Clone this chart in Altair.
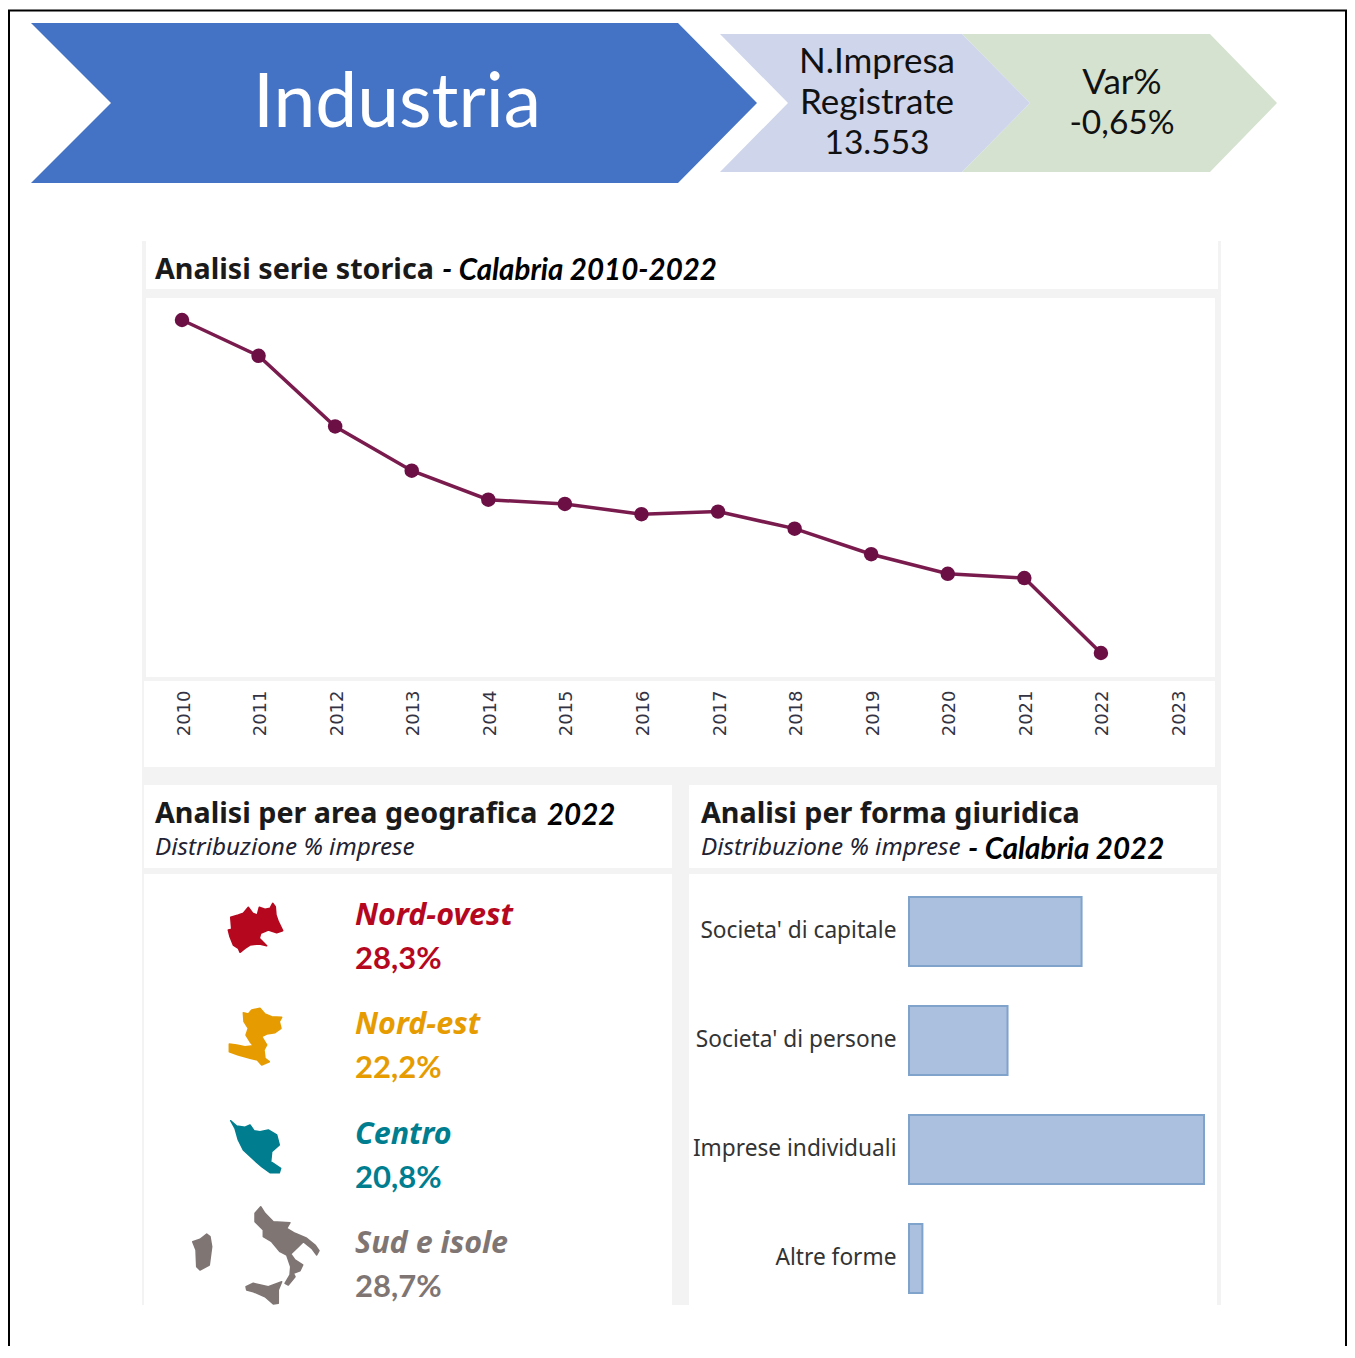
import altair as alt
import pandas as pd

# ---- data ----
years = [str(y) for y in range(2010, 2024)]
series_years = [str(y) for y in range(2010, 2023)]
imprese = [13944, 13902, 13819, 13767, 13733, 13728, 13716, 13719, 13699, 13669, 13646, 13641, 13553]
regions = ["Nord-ovest", "Nord-est", "Centro", "Sud e isole"]
region_shares = [28.3, 22.2, 20.8, 28.7]
region_colors = ["#B5081F", "#E69C00", "#007E8F", "#7F7674"]
forms = ["Societa' di capitale", "Societa' di persone", "Imprese individuali", "Altre forme"]
form_shares = [29.6, 16.9, 50.6, 2.3]

OX, OY = 8, 8  # page margin: picture px -> chart px
W, H = 1339, 1338
RIGHT = OX + W - 1


def path(pts, sx=1.0, sy=1.0, x0=0.0, y0=0.0):
    p = [(x0 + x / sx - OX, y0 + y / sy - OY) for x, y in pts]
    return "M" + "L".join(f"{x:.1f},{y:.1f}" for x, y in p) + "Z"


def zoomed(pts, x0, y0):
    return path(pts, 3, 3, x0, y0)


# ---- panels: x, x2, y, y2, colour (picture px) ----
panels = [
    (142, 1221, 241, 1305, "#F3F3F3"),
    (146, 1218, 241, 289, "#FFFFFF"),
    (146, 1215, 298, 677, "#FFFFFF"),
    (144, 1215, 681, 767, "#FFFFFF"),
    (144, 672, 785, 868, "#FFFFFF"),
    (144, 672, 874, 1305, "#FFFFFF"),
    (689, 1217, 785, 868, "#FFFFFF"),
    (689, 1217, 874, 1305, "#FFFFFF"),
]
panel_df = pd.DataFrame(panels, columns=["x", "x2", "y", "y2", "c"])
for k in ("x", "x2"):
    panel_df[k] -= OX
for k in ("y", "y2"):
    panel_df[k] -= OY
panel_layer = alt.Chart(panel_df).mark_rect(strokeWidth=0).encode(
    x=alt.X("x:Q", scale=None, axis=None), x2="x2:Q",
    y=alt.Y("y:Q", scale=None, axis=None), y2="y2:Q",
    fill=alt.Fill("c:N", scale=None, legend=None),
)

# ---- decorative silhouettes ----
red = [(175,150),(185,148),(182,112),(205,105),(220,100),(235,82),(248,100),(262,105),(268,82),(285,88),(300,85),(308,70),(316,80),(318,105),(325,125),(338,152),(320,158),(295,150),(272,160),(268,175),(290,197),(268,192),(240,195),(225,205),(210,217),(205,205),(190,195),(180,170)]
orange = [(220,398),(235,402),(245,390),(270,385),(285,402),(305,410),(335,412),(328,425),(333,445),(315,458),(290,462),(275,470),(290,495),(282,510),(285,535),(298,545),(275,555),(262,540),(240,535),(205,525),(178,515),(178,492),(200,495),(225,500),(250,497),(240,485),(228,465),(235,445),(222,425)]
teal = [(182,62),(200,78),(225,82),(240,75),(252,92),(270,95),(295,90),(320,105),(328,135),(305,155),(302,185),(332,205),(328,218),(300,218),(275,200),(250,178),(220,150),(205,120),(195,85)]
main = [(255,340),(272,320),(285,340),(310,365),(360,368),(350,385),(375,400),(410,415),(435,435),(447,452),(440,465),(425,445),(400,425),(385,440),(362,462),(375,480),(398,495),(390,512),(370,520),(375,530),(355,555),(345,550),(360,525),(362,500),(350,465),(330,455),(305,425),(280,410),(280,390),(255,365)]
sard = [(68,425),(90,418),(110,402),(120,410),(125,440),(118,495),(90,510),(80,500),(78,450)]
sic = [(228,560),(250,550),(295,560),(335,545),(325,570),(325,610),(310,612),(285,590),(250,575),(230,570)]

shapes = [
    (path([(8, 9.5), (RIGHT + 1, 9.5), (RIGHT + 1, 11.5), (8, 11.5)]), "#000000", 0),
    (path([(8, 10), (10, 10), (10, OY + H), (8, OY + H)]), "#000000", 0),
    (path([(RIGHT - 1, 10), (RIGHT + 1, 10), (RIGHT + 1, OY + H), (RIGHT - 1, OY + H)]), "#000000", 0),
    (path([(31, 23), (678, 23), (757, 103), (678, 183), (31, 183), (111, 103)]), "#4472C4", 0),
    (path([(962, 34), (1210, 34), (1277, 103), (1210, 172), (962, 172), (1030, 103)]), "#D6E2D0", 0),
    (path([(720, 34), (962, 34), (1030, 103), (962, 172), (720, 172), (788, 103)]), "#CFD5EA", 0),
    (zoomed(red, 170, 880), region_colors[0], 1.5),
    (zoomed(orange, 170, 880), region_colors[1], 1.5),
    (zoomed(teal, 170, 1100), region_colors[2], 1.5),
    (zoomed(main, 170, 1100), region_colors[3], 1.5),
    (zoomed(sard, 170, 1100), region_colors[3], 1.5),
    (zoomed(sic, 170, 1100), region_colors[3], 1.5),
]
shape_layer = alt.Chart(pd.DataFrame(shapes, columns=["p", "c", "sw"])).mark_point(
    filled=True, size=4, opacity=1, strokeJoin="round"
).encode(
    x=alt.value(0), y=alt.value(0),
    shape=alt.Shape("p:N", scale=None, legend=None),
    fill=alt.Fill("c:N", scale=None, legend=None),
    stroke=alt.Stroke("c:N", scale=None, legend=None),
    strokeWidth=alt.StrokeWidth("sw:Q", scale=None, legend=None),
)


def text_layer(rows, **style):
    df = pd.DataFrame(rows, columns=["t", "x", "y"])
    df["x"] -= OX
    df["y"] -= OY
    return alt.Chart(df).mark_text(baseline="middle", **style).encode(
        x=alt.X("x:Q", scale=None, axis=None),
        y=alt.Y("y:Q", scale=None, axis=None),
        text="t:N",
    )


texts = [
    text_layer([("Industria", 397, 104)], font="Lato", fontWeight=400, fontSize=75, color="#FFFFFF", align="center"),
    text_layer([("N.Impresa", 877, 62), ("Registrate", 877, 103), ("Var%", 1122, 83)],
               font="Lato", fontSize=35, color="#111111", align="center"),
    text_layer([("13.553", 877, 144), ("-0,65%", 1122, 124)],
               font="Lato", fontSize=33.5, color="#111111", align="center"),
    text_layer([("Analisi serie storica", 155, 269.5), ("Analisi per area geografica", 155, 813.5), ("Analisi per forma giuridica", 701, 813.5)],
               font="Noto Sans", fontWeight="bold", fontSize=28.7, color="#1A1A1A", align="left"),
    text_layer([("- Calabria 2010-2022", 442, 271), ("2022", 547, 816), ("- Calabria 2022", 968, 850)],
               font="Lato", fontWeight="bold", fontStyle="italic", fontSize=29.5, color="#000000", align="left"),
    text_layer([("Distribuzione % imprese", 155, 848), ("Distribuzione % imprese", 701, 848)],
               font="Noto Sans", fontStyle="italic", fontSize=24.3, color="#222233", align="left"),
]

# ---- line chart ----
line_df = pd.DataFrame({"year": series_years, "n": imprese})
year_scale = alt.Scale(domain=years, type="point", padding=0, range=[182 - OX, 1177.5 - OX])
y_n = alt.Y("n:Q", title=None, axis=None,
            scale=alt.Scale(domain=[13553, 13944], range=[653 - OY, 320 - OY], nice=False, zero=False))
year_axis = alt.Axis(labelAngle=-90, domain=False, ticks=False, grid=False, offset=680 - (H + OY),
                     labelPadding=10, labelOffset=2, labelFont="DejaVu Sans", labelFontSize=18, labelColor="#333344",
                     labelBaseline="middle", labelAlign="right", labelOverlap=False, zindex=1, title=None)
line_layer = alt.Chart(line_df).mark_line(color="#7A1B4E", strokeWidth=3.5).encode(
    x=alt.X("year:O", sort=years, title=None, axis=year_axis, scale=year_scale),
    y=y_n,
)
dot_layer = alt.Chart(line_df).mark_point(filled=True, size=210, opacity=1, color="#6B0F45").encode(
    x=alt.X("year:O", axis=None, scale=year_scale),
    y=y_n,
)

# ---- region list ----
reg_df = pd.DataFrame({"r": regions, "v": region_shares})
reg_df["label"] = reg_df["v"].map(lambda v: f"{v:.1f}%".replace(".", ","))
reg_y = alt.Y("r:N", axis=None, title=None,
              scale=alt.Scale(domain=regions, type="point", padding=0, range=[938 - OY, 1266 - OY]))
reg_color = alt.Color("r:N", legend=None, scale=alt.Scale(domain=regions, range=region_colors))
reg_name = alt.Chart(reg_df).mark_text(font="Noto Sans", fontWeight="bold", fontStyle="italic", fontSize=30.5,
                                       align="left", baseline="middle", dy=-22, x=355 - OX).encode(
    y=reg_y, color=reg_color, text="r:N")
reg_val = alt.Chart(reg_df).mark_text(font="Lato", fontWeight="bold", fontSize=31,
                                      align="left", baseline="middle", dy=22, x=355 - OX).encode(
    y=reg_y, color=reg_color, text="label:N")

# ---- legal form bars ----
form_df = pd.DataFrame({"f": forms, "s": form_shares})
bar_layer = alt.Chart(form_df).mark_bar(fill="#ABBFDF", stroke="#7FA3CB", strokeWidth=2).encode(
    x=alt.X("s:Q", axis=None, title=None,
            scale=alt.Scale(domain=[0, 50.6], range=[909 - OX, 1204 - OX], nice=False, zero=True)),
    y=alt.Y("f:N", sort=forms, title=None,
            axis=alt.Axis(domain=False, ticks=False, grid=False, offset=-(908 - OX),
                          labelPadding=12, labelOffset=-1, labelFont="Noto Sans", labelFontSize=22.7, labelColor="#333333",
                          labelLimit=300, zindex=1, title=None),
            scale=alt.Scale(domain=forms, type="band", range=[877 - OY, 1313 - OY], paddingInner=0.367, paddingOuter=0.1835)),
)

chart = alt.layer(
    panel_layer, shape_layer, *texts, line_layer, dot_layer, reg_name, reg_val, bar_layer
).resolve_scale(
    x="independent", y="independent", color="independent"
).resolve_axis(
    x="independent", y="independent"
).properties(
    width=W, height=H, padding=0, background="#FFFFFF"
).configure_view(stroke=None)

chart.save("out.html", embed_options={"renderer": "svg", "actions": False})
